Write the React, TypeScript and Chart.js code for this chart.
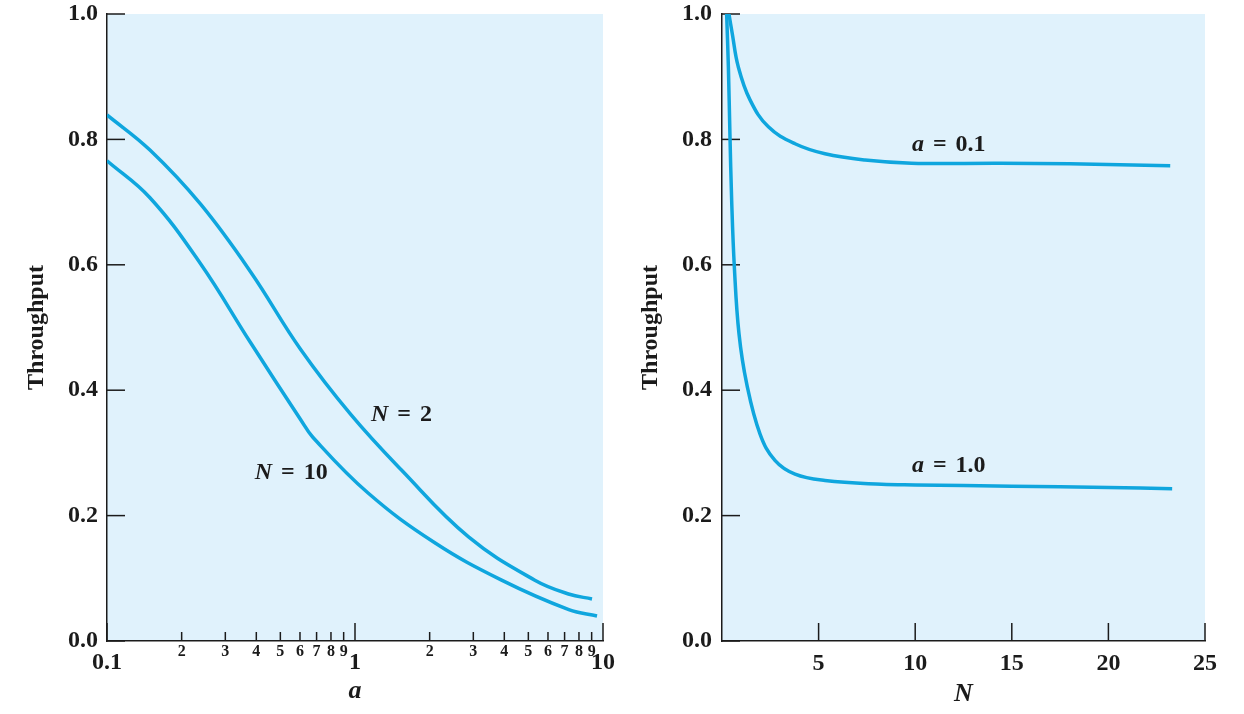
import { useEffect, useRef } from 'react';
import { Chart, registerables } from 'chart.js';

Chart.register(...registerables);

const FONT = '"Liberation Serif", "Times New Roman", serif';
const INK = '#1b1b1b';
const LINE = '#0fa6de';
const PANEL = '#e0f2fc';

// Left panel: throughput against a (logarithmic)
const A_VALUES_N2 = [0.1, 0.149, 0.238, 0.379, 0.604, 0.963, 1.536, 2.87, 5.31, 7.26, 9.03];
const THROUGHPUT_N2 = [0.839, 0.783, 0.697, 0.589, 0.465, 0.361, 0.273, 0.166, 0.097, 0.075, 0.067];
const A_VALUES_N10 = [0.1, 0.149, 0.238, 0.379, 0.604, 0.676, 1.129, 2.09, 3.9, 7.28, 9.46];
const THROUGHPUT_N10 = [0.766, 0.707, 0.602, 0.476, 0.353, 0.325, 0.236, 0.157, 0.097, 0.05, 0.04];

// Right panel: throughput against N
const N_VALUES_A01 = [0.36, 0.53, 0.84, 1.45, 2.4, 3.78, 5.33, 7.4, 9.81, 14.4, 18, 23.2];
const THROUGHPUT_A01 = [1.0, 0.969, 0.916, 0.863, 0.82, 0.793, 0.777, 0.767, 0.762, 0.762, 0.761, 0.758];
const N_VALUES_A1 = [0.24, 0.33, 0.41, 0.5, 0.64, 0.88, 1.28, 1.97, 2.74, 3.78, 5.33, 8.26, 10, 15, 20, 23.3];
const THROUGHPUT_A1 = [1.0, 0.916, 0.809, 0.703, 0.596, 0.49, 0.41, 0.33, 0.288, 0.266, 0.256, 0.25, 0.249, 0.247, 0.245, 0.243];

// Tick values and labels
const Y_TICKS = [0, 0.2, 0.4, 0.6, 0.8, 1.0];
const Y_LABELS = ['0.0', '0.2', '0.4', '0.6', '0.8', '1.0'];
const A_MAJOR_TICKS = [0.1, 1, 10];
const A_TICKS = [0.1, 0.2, 0.3, 0.4, 0.5, 0.6, 0.7, 0.8, 0.9, 1, 2, 3, 4, 5, 6, 7, 8, 9, 10];
const A_TICK_LABELS = ['0.1', '2', '3', '4', '5', '6', '7', '8', '9', '1', '2', '3', '4', '5', '6', '7', '8', '9', '10'];
const N_TICKS = [5, 10, 15, 20, 25];
const N_LABELS = ['5', '10', '15', '20', '25'];

const toPoints = (xs: number[], ys: number[]) => xs.map((x, i) => ({ x, y: ys[i] }));

const bold = (size: number, style: 'normal' | 'italic' = 'normal', lineHeight = 1.2) => ({
  family: FONT,
  size,
  weight: 'bold' as const,
  style,
  lineHeight,
});

const curve = (xs: number[], ys: number[]) => ({
  data: toPoints(xs, ys),
  borderColor: LINE,
  borderWidth: 3.5,
  pointRadius: 0,
  fill: false,
  tension: 0.4,
  xAxisID: 'x',
  yAxisID: 'y',
});

// Shades the plotting area
const panelBackground = {
  id: 'panelBackground',
  beforeDraw(chart: any) {
    const { ctx, chartArea } = chart;
    ctx.save();
    ctx.fillStyle = PANEL;
    ctx.fillRect(chartArea.left, chartArea.top, chartArea.right - chartArea.left, chartArea.bottom - chartArea.top);
    ctx.restore();
  },
};

type TickMark = { axis: string; value: number; length: number };

// Tick marks that point into the plotting area
const inwardTicks = (marks: TickMark[]) => ({
  id: 'inwardTicks',
  beforeDatasetsDraw(chart: any) {
    const { ctx } = chart;
    ctx.save();
    ctx.strokeStyle = INK;
    ctx.lineWidth = 1.5;
    for (const m of marks) {
      const scale = chart.scales[m.axis];
      const p = scale.getPixelForValue(m.value);
      ctx.beginPath();
      if (scale.isHorizontal()) {
        ctx.moveTo(p, scale.top);
        ctx.lineTo(p, scale.top - m.length);
      } else {
        ctx.moveTo(scale.right, p);
        ctx.lineTo(scale.right + m.length, p);
      }
      ctx.stroke();
    }
    ctx.restore();
  },
});

type CurveLabel = { x: number; y: number; symbol: string; value: string };

// "symbol = value" captions placed at data coordinates
const curveLabels = (labels: CurveLabel[]) => ({
  id: 'curveLabels',
  afterDatasetsDraw(chart: any) {
    const { ctx } = chart;
    const xs = chart.scales.x;
    const ys = chart.scales.y;
    ctx.save();
    ctx.fillStyle = INK;
    ctx.textBaseline = 'middle';
    ctx.textAlign = 'left';
    const gap = 9;
    for (const l of labels) {
      let px = xs.getPixelForValue(l.x);
      const py = ys.getPixelForValue(l.y);
      ctx.font = `italic bold 24px ${FONT}`;
      ctx.fillText(l.symbol, px, py);
      px += ctx.measureText(l.symbol).width + gap;
      ctx.font = `bold 24px ${FONT}`;
      ctx.fillText('=', px, py);
      px += ctx.measureText('=').width + gap;
      ctx.fillText(l.value, px, py);
    }
    ctx.restore();
  },
});

const yScale = (titlePad: number, labelPad: number, width: number) => ({
  type: 'linear' as const,
  position: 'left' as const,
  min: 0,
  max: 1,
  grid: { display: false, drawTicks: false },
  border: { display: true, color: INK, width: 1.5 },
  afterBuildTicks: (s: any) => {
    s.ticks = Y_TICKS.map((value) => ({ value }));
  },
  ticks: {
    color: INK,
    padding: labelPad,
    font: bold(24),
    callback: (_v: any, i: number) => Y_LABELS[i],
  },
  title: {
    display: true,
    text: 'Throughput',
    color: INK,
    font: bold(24),
    padding: { top: titlePad, bottom: 0 },
  },
  afterFit: (s: any) => {
    s.width = width;
    s.paddingTop = 0;
    s.paddingBottom = 0;
  },
});

const fixHeight = (height: number) => (s: any) => {
  s.height = height;
  s.paddingLeft = 0;
  s.paddingRight = 0;
};

const leftConfig = (): any => ({
  type: 'line',
  data: {
    datasets: [curve(A_VALUES_N2, THROUGHPUT_N2), curve(A_VALUES_N10, THROUGHPUT_N10)],
  },
  options: {
    responsive: false,
    animation: false,
    devicePixelRatio: 1,
    events: [],
    layout: { padding: { top: 14, right: 17, left: 0, bottom: 0 } },
    plugins: { legend: { display: false }, tooltip: { enabled: false } },
    scales: {
      x: {
        type: 'logarithmic',
        position: 'bottom',
        min: 0.1,
        max: 10,
        grid: { display: false, drawTicks: false },
        border: { display: true, color: INK, width: 1.5 },
        afterBuildTicks: (s: any) => {
          s.ticks = A_TICKS.map((value) => ({ value, major: A_MAJOR_TICKS.includes(value) }));
        },
        ticks: {
          autoSkip: false,
          maxRotation: 0,
          color: INK,
          padding: 1,
          // decade labels sit lower and larger than the in-between digits
          font: (ctx: any) =>
            ctx.tick && A_MAJOR_TICKS.includes(ctx.tick.value) ? bold(24, 'normal', 1.75) : bold(16, 'normal', 1.25),
          callback: (_v: any, i: number) => A_TICK_LABELS[i],
        },
        title: {
          display: true,
          text: 'a',
          color: INK,
          font: bold(26, 'italic'),
          padding: { top: 0, bottom: 7 },
        },
        afterFit: fixHeight(73),
      },
      y: yScale(22.6, 9, 107),
    },
  },
  plugins: [
    panelBackground,
    inwardTicks([
      ...Y_TICKS.map((value) => ({ axis: 'y', value, length: 18 })),
      ...A_TICKS.map((value) => ({ axis: 'x', value, length: A_MAJOR_TICKS.includes(value) ? 18 : 9 })),
    ]),
    curveLabels([
      { x: 1.16, y: 0.361, symbol: 'N', value: '2' },
      { x: 0.394, y: 0.268, symbol: 'N', value: '10' },
    ]),
  ],
});

const rightConfig = (): any => ({
  type: 'line',
  data: {
    datasets: [curve(N_VALUES_A01, THROUGHPUT_A01), curve(N_VALUES_A1, THROUGHPUT_A1)],
  },
  options: {
    responsive: false,
    animation: false,
    devicePixelRatio: 1,
    events: [],
    layout: { padding: { top: 14, right: 39, left: 0, bottom: 0 } },
    plugins: { legend: { display: false }, tooltip: { enabled: false } },
    scales: {
      x: {
        type: 'linear',
        position: 'bottom',
        min: 0,
        max: 25,
        grid: { display: false, drawTicks: false },
        border: { display: true, color: INK, width: 1.5 },
        afterBuildTicks: (s: any) => {
          s.ticks = N_TICKS.map((value) => ({ value }));
        },
        ticks: {
          autoSkip: false,
          maxRotation: 0,
          color: INK,
          padding: 8,
          font: bold(24),
          callback: (_v: any, i: number) => N_LABELS[i],
        },
        title: {
          display: true,
          text: 'N',
          color: INK,
          font: bold(26, 'italic'),
          padding: { top: 0, bottom: 4 },
        },
        afterFit: fixHeight(73),
      },
      y: yScale(16.6, 10, 102),
    },
  },
  plugins: [
    panelBackground,
    inwardTicks([
      ...Y_TICKS.map((value) => ({ axis: 'y', value, length: 18 })),
      ...N_TICKS.map((value) => ({ axis: 'x', value, length: 18 })),
    ]),
    curveLabels([
      { x: 9.83, y: 0.791, symbol: 'a', value: '0.1' },
      { x: 9.83, y: 0.28, symbol: 'a', value: '1.0' },
    ]),
  ],
});

export default function App() {
  const leftRef = useRef<HTMLCanvasElement>(null);
  const rightRef = useRef<HTMLCanvasElement>(null);

  useEffect(() => {
    const left = new Chart(leftRef.current!, leftConfig());
    const right = new Chart(rightRef.current!, rightConfig());
    return () => {
      left.destroy();
      right.destroy();
    };
  }, []);

  return (
    <div style={{ position: 'absolute', left: 0, top: 0, width: 1244, height: 714, background: '#fff' }}>
      <canvas ref={leftRef} width={620} height={714} style={{ position: 'absolute', left: 0, top: 0 }} />
      <canvas ref={rightRef} width={624} height={714} style={{ position: 'absolute', left: 620, top: 0 }} />
    </div>
  );
}
